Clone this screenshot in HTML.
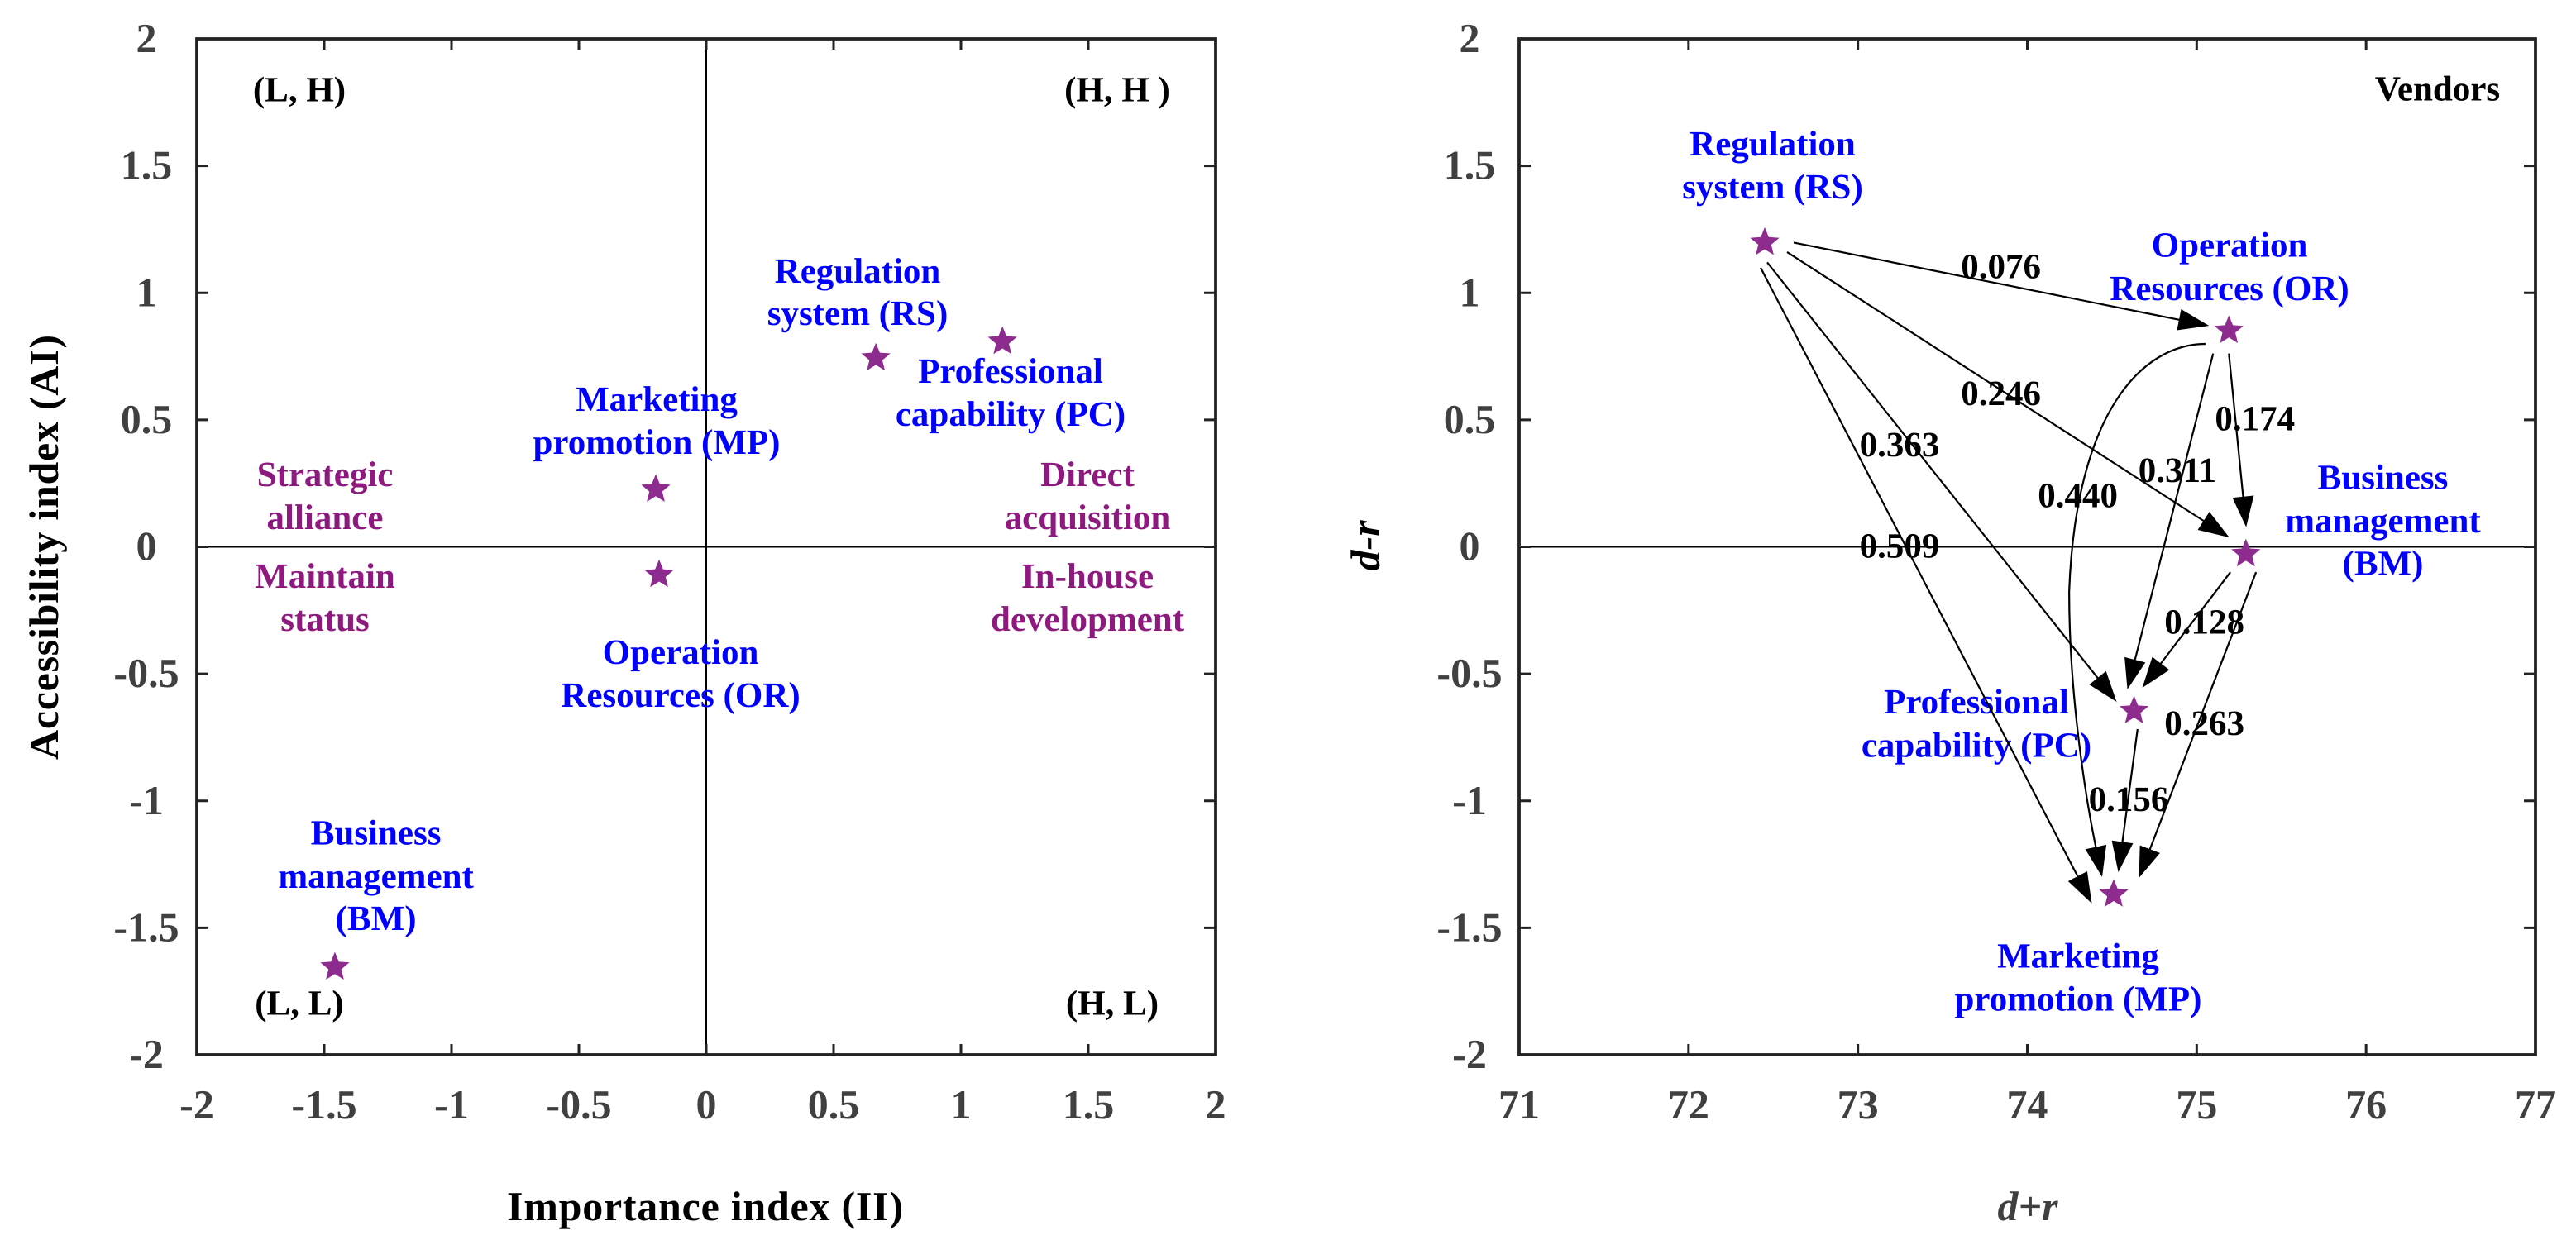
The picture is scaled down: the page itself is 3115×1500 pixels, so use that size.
<!DOCTYPE html>
<html lang="en">
<head>
<meta charset="utf-8">
<title>Importance-accessibility matrix and influence network for vendors</title>
<style>
  html, body { margin: 0; padding: 0; background: #ffffff; }
  #figure { display: block; width: 3115px; height: 1500px; }
  text { font-family: "Liberation Serif", serif; font-weight: bold; font-size: 43px; text-rendering: geometricPrecision; }
  .blue { fill: #0000ff; text-anchor: middle; }
  .purple { fill: #8e1a80; text-anchor: middle; }
  .black { fill: #000000; text-anchor: middle; }
  .tick { fill: #404040; font-size: 50px; text-anchor: middle; }
  .title { fill: #000000; font-size: 50px; text-anchor: middle; }
</style>
</head>
<body>
<svg id="figure" xmlns="http://www.w3.org/2000/svg" width="3115" height="1500" viewBox="0 0 3115 1500">
  <rect x="0" y="0" width="3115" height="1500" fill="#ffffff"/>
  <g id="left-plot"></g>
  <g id="right-plot"></g>

  <g>
    <text class="black" x="362" y="122.7">(L, H)</text>
    <text class="black" x="1351" y="122.7">(H, H )</text>
    <text class="black" x="362" y="1227.7">(L, L)</text>
    <text class="black" x="1345" y="1227.7">(H, L)</text>

    <text class="purple" x="393" y="588">Strategic</text>
    <text class="purple" x="393" y="640">alliance</text>
    <text class="purple" x="393" y="711">Maintain</text>
    <text class="purple" x="393" y="763">status</text>
    <text class="purple" x="1315" y="588">Direct</text>
    <text class="purple" x="1315" y="640">acquisition</text>
    <text class="purple" x="1315" y="711">In-house</text>
    <text class="purple" x="1315" y="763">development</text>

    <text class="blue" x="1037" y="342">Regulation</text>
    <text class="blue" x="1037" y="393">system (RS)</text>
    <text class="blue" x="1222" y="463">Professional</text>
    <text class="blue" x="1222" y="515">capability (PC)</text>
    <text class="blue" x="794" y="497">Marketing</text>
    <text class="blue" x="794" y="549">promotion (MP)</text>
    <text class="blue" x="823" y="803">Operation</text>
    <text class="blue" x="823" y="855">Resources (OR)</text>
    <text class="blue" x="454.6" y="1021.7">Business</text>
    <text class="blue" x="454.6" y="1074">management</text>
    <text class="blue" x="454.6" y="1125">(BM)</text>

    <text class="title" x="852.5" y="1476" textLength="479" lengthAdjust="spacing">Importance index (II)</text>
    <text class="title" transform="translate(70,662) rotate(-90)" x="0" y="0" textLength="514" lengthAdjust="spacing">Accessibility index (AI)</text>
  </g>

  <g>
    <text class="black" x="2947.5" y="121.7">Vendors</text>

    <text class="blue" x="2143.5" y="188">Regulation</text>
    <text class="blue" x="2143.5" y="240">system (RS)</text>
    <text class="blue" x="2696" y="310.7">Operation</text>
    <text class="blue" x="2696" y="362.8">Resources (OR)</text>
    <text class="blue" x="2881.5" y="591.7">Business</text>
    <text class="blue" x="2881.5" y="644">management</text>
    <text class="blue" x="2881.5" y="695.7">(BM)</text>
    <text class="blue" x="2390" y="863">Professional</text>
    <text class="blue" x="2390" y="915.7">capability (PC)</text>
    <text class="blue" x="2513" y="1170.7">Marketing</text>
    <text class="blue" x="2513" y="1222.7">promotion (MP)</text>

    <text class="title" style="fill:#404040;font-style:italic" x="2452" y="1476">d+r</text>
    <text class="title" style="font-style:italic" transform="translate(1668,660) rotate(-90)" x="0" y="0">d-r</text>
  </g>

  <g id="network"></g>

  <g>
    <text class="black" x="2419.6" y="336.4">0.076</text>
    <text class="black" x="2419.6" y="490">0.246</text>
    <text class="black" x="2297" y="552">0.363</text>
    <text class="black" x="2726.7" y="520.7">0.174</text>
    <text class="black" x="2633" y="582.8">0.311</text>
    <text class="black" x="2512.6" y="613.4">0.440</text>
    <text class="black" x="2297" y="674.7">0.509</text>
    <text class="black" x="2665.6" y="766.7">0.128</text>
    <text class="black" x="2665.6" y="889">0.263</text>
    <text class="black" x="2574" y="981">0.156</text>
  </g>
</svg>

<script>
// ---- chart data ----
const factorCodes = ['RS', 'OR', 'BM', 'PC', 'MP'];

const importanceValues = [0.666, -0.185, -1.458, 1.163, -0.198];
const accessibilityValues = [0.743, -0.11, -1.655, 0.808, 0.226];

const dPlusRValues = [72.45, 75.19, 75.29, 74.63, 74.51];
const dMinusRValues = [1.198, 0.851, -0.028, -0.646, -1.368];

const leftXTicks = [-2, -1.5, -1, -0.5, 0, 0.5, 1, 1.5, 2];
const leftYTicks = [-2, -1.5, -1, -0.5, 0, 0.5, 1, 1.5, 2];
const rightXTicks = [71, 72, 73, 74, 75, 76, 77];
const rightYTicks = [-2, -1.5, -1, -0.5, 0, 0.5, 1, 1.5, 2];

const edgeFrom = ['RS', 'RS', 'RS', 'RS', 'OR', 'OR', 'OR', 'BM', 'BM', 'PC'];
const edgeTo = ['OR', 'BM', 'PC', 'MP', 'BM', 'PC', 'MP', 'PC', 'MP', 'MP'];

// ---- layout (not data) ----
const frameLeft = { x0: 238, x1: 1470, y0: 1276, y1: 47 };
const frameRight = { x0: 1837, x1: 3066, y0: 1276, y1: 47 };
const starColor = '#8e2b8e';
const frameColor = '#222222';
const svgNS = 'http://www.w3.org/2000/svg';

// gaps between a star centre and the start / tip of each arrow, in pixels
const arrowGaps = {
  'RS-OR': [35, 0, -24, -6],
  'RS-BM': [27, 11.5, -20, -20],
  'RS-PC': [3, 24, -21, -11],
  'RS-MP': [-5, 30.5, -26.5, 11],
  'OR-BM': [0, 27.6, 0.4, -32.5],
  'OR-PC': [-19, 27.6, -8, -26],
  'OR-MP': [-28, 16, -14, -21],
  'BM-PC': [-18.6, 22, 10, -28],
  'BM-MP': [12.4, 22, 30.6, -20],
  'PC-MP': [4.3, 22, 5.6, -26.7]
};

function scale(domainMin, domainMax, rangeMin, rangeMax) {
  return function (v) {
    return rangeMin + (v - domainMin) * (rangeMax - rangeMin) / (domainMax - domainMin);
  };
}

function make(parent, tag, attrs) {
  const el = document.createElementNS(svgNS, tag);
  Object.keys(attrs).forEach(function (k) { el.setAttribute(k, attrs[k]); });
  parent.appendChild(el);
  return el;
}

function drawFrame(group, frame, xTicks, yTicks, xScale, yScale, yLabelX, prefix) {
  xTicks.forEach(function (t) {
    const x = xScale(t);
    const bottomTick = make(group, 'line', { x1: x, x2: x, y1: frame.y0, y2: frame.y0 - 13, stroke: frameColor, 'stroke-width': 3 });
    
    
    const topTick = make(group, 'line', { x1: x, x2: x, y1: frame.y1, y2: frame.y1 + 13, stroke: frameColor, 'stroke-width': 3 });
    
    
    const label = make(group, 'text', { class: 'tick', x: x, y: 1353 });
    label.textContent = String(t);
    
    
  });
  yTicks.forEach(function (t) {
    const y = yScale(t);
    const leftTick = make(group, 'line', { x1: frame.x0, x2: frame.x0 + 14, y1: y, y2: y, stroke: frameColor, 'stroke-width': 3 });
    
    
    const rightTick = make(group, 'line', { x1: frame.x1, x2: frame.x1 - 14, y1: y, y2: y, stroke: frameColor, 'stroke-width': 3 });
    
    
    const label = make(group, 'text', { class: 'tick', x: yLabelX, y: y + 16 });
    label.textContent = String(t);
    
    
  });
  const box = make(group, 'rect', {
    x: frame.x0, y: frame.y1, width: frame.x1 - frame.x0, height: frame.y0 - frame.y1,
    fill: 'none', stroke: frameColor, 'stroke-width': 3.8
  });
  
  
}

function drawStar(group, cx, cy, name) {
  const outer = 18.5, inner = 8.2;
  const pts = [];
  for (let i = 0; i < 10; i++) {
    const r = i % 2 === 0 ? outer : inner;
    const a = -Math.PI / 2 + i * Math.PI / 5;
    pts.push((cx + r * Math.cos(a)).toFixed(2) + ',' + (cy + r * Math.sin(a)).toFixed(2));
  }
  const star = make(group, 'polygon', { points: pts.join(' '), fill: starColor });
  
  
}

function drawHead(group, tipX, tipY, fromX, fromY, name) {
  const len = 37, half = 13;
  const d = Math.hypot(tipX - fromX, tipY - fromY) || 1;
  const ux = (tipX - fromX) / d, uy = (tipY - fromY) / d;
  const bx = tipX - ux * len, by = tipY - uy * len;
  const pts = [
    tipX + ',' + tipY,
    (bx - uy * half) + ',' + (by + ux * half),
    (bx + uy * half) + ',' + (by - ux * half)
  ];
  const head = make(group, 'polygon', { points: pts.join(' '), fill: '#000000' });
  
  
  return { x: bx + ux * 2, y: by + uy * 2 };
}

// ---- left panel ----
const leftGroup = document.getElementById('left-plot');
const lx = scale(-2, 2, frameLeft.x0, frameLeft.x1);
const ly = scale(-2, 2, frameLeft.y0, frameLeft.y1);

const leftVertical = make(leftGroup, 'line', { x1: lx(0), x2: lx(0), y1: frameLeft.y1, y2: frameLeft.y0, stroke: '#000000', 'stroke-width': 2 });


const leftHorizontal = make(leftGroup, 'line', { x1: frameLeft.x0, x2: frameLeft.x1, y1: ly(0), y2: ly(0), stroke: '#000000', 'stroke-width': 2 });



drawFrame(leftGroup, frameLeft, leftXTicks, leftYTicks, lx, ly, 177, 'left');

factorCodes.forEach(function (code, i) {
  drawStar(leftGroup, lx(importanceValues[i]), ly(accessibilityValues[i]), 'left-point-' + code.toLowerCase());
});

// ---- right panel ----
const rightGroup = document.getElementById('right-plot');
const rx = scale(71, 77, frameRight.x0, frameRight.x1);
const ry = scale(-2, 2, frameRight.y0, frameRight.y1);

const rightHorizontal = make(rightGroup, 'line', { x1: frameRight.x0, x2: frameRight.x1, y1: ry(0), y2: ry(0), stroke: '#000000', 'stroke-width': 2 });



drawFrame(rightGroup, frameRight, rightXTicks, rightYTicks, rx, ry, 1777, 'right');

factorCodes.forEach(function (code, i) {
  drawStar(rightGroup, rx(dPlusRValues[i]), ry(dMinusRValues[i]), 'right-point-' + code.toLowerCase());
});

// ---- arrows ----
const networkGroup = document.getElementById('network');
edgeFrom.forEach(function (fromCode, i) {
  const toCode = edgeTo[i];
  const a = factorCodes.indexOf(fromCode), b = factorCodes.indexOf(toCode);
  const key = fromCode + '-' + toCode;
  const gap = arrowGaps[key];
  const sx = rx(dPlusRValues[a]) + gap[0], sy = ry(dMinusRValues[a]) + gap[1];
  const ex = rx(dPlusRValues[b]) + gap[2], ey = ry(dMinusRValues[b]) + gap[3];
  const name = key.toLowerCase();
  let d, base;
  if (key === 'OR-MP') {
    // curved link bulging to the left of the straight chord
    const px = function (f) { return sx + f * (ex - sx); };
    const py = function (f) { return sy + f * (ey - sy); };
    base = drawHead(networkGroup, ex, ey, px(1.135), py(0.875), 'arrowhead-' + name);
    d = 'M' + sx + ' ' + sy +
      ' C' + px(0.618) + ' ' + py(0) + ' ' + px(1.255) + ' ' + py(0.13) + ' ' + px(1.318) + ' ' + py(0.465) +
      ' C' + px(1.318) + ' ' + py(0.673) + ' ' + px(1.135) + ' ' + py(0.875) + ' ' + base.x + ' ' + base.y;
  } else {
    base = drawHead(networkGroup, ex, ey, sx, sy, 'arrowhead-' + name);
    d = 'M' + sx + ' ' + sy + ' L' + base.x + ' ' + base.y;
  }
  const link = make(networkGroup, 'path', { d: d, fill: 'none', stroke: '#000000', 'stroke-width': 2.2 });
  
  
});
</script>
</body>
</html>
